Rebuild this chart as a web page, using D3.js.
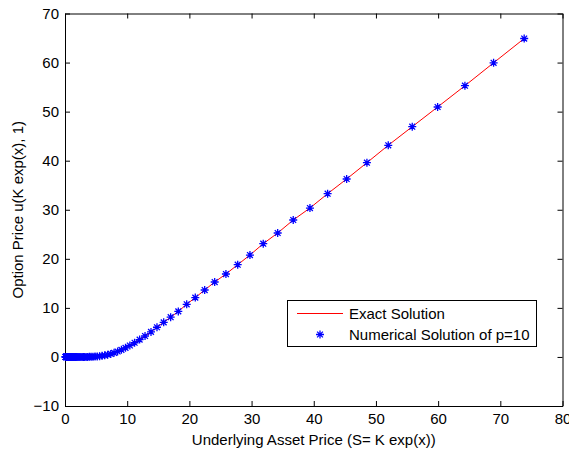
<!DOCTYPE html>
<html>
<head>
<meta charset="utf-8">
<script src="https://cdn.jsdelivr.net/npm/d3@7"></script>
<style>
  body { margin: 0; background: #fff; }
  svg { display: block; font-family: "Liberation Sans", Arial, Helvetica, sans-serif; }
</style>
</head>
<body>
<div class="canva"></div>
<script>
// asset price S and option value u (top end first)
const priceS = [73.84, 68.92, 64.31, 59.92, 55.84, 51.98, 48.55, 45.29, 42.23, 39.39,
  36.70, 34.20, 31.88, 29.74, 27.77, 25.88, 24.07, 22.46, 20.95, 19.57,
  18.22, 16.99, 15.87, 14.79, 13.83, 12.87, 12.00, 11.19, 10.43, 9.73,
  9.07, 8.46, 7.89, 7.36, 6.86, 6.39, 5.96, 5.56, 5.18, 4.83,
  4.50, 4.20, 3.92, 3.65, 3.40, 3.17, 2.96, 2.76, 2.57, 2.40,
  2.24, 2.08, 1.94, 1.81, 1.69, 1.58, 1.47, 1.37, 1.28, 1.19,
  1.11, 1.04, 0.97, 0.90, 0.84, 0.78, 0.73, 0.68, 0.64, 0.59,
  0.55, 0.52, 0.48, 0.45, 0.42, 0.39, 0.37, 0.34, 0.32, 0.30,
  0.28, 0.26, 0.24, 0.23, 0.21, 0.20, 0.18, 0.17, 0.16, 0.15,
  0.14, 0.13, 0.12, 0.11, 0.10];
const exactU = [64.90, 59.95, 55.28, 50.94, 46.93, 43.14, 39.59, 36.27, 33.27, 30.35,
  27.91, 25.26, 23.08, 20.77, 18.80, 16.90, 15.27, 13.64, 12.10, 10.73,
  9.28, 8.10, 7.05, 6.05, 5.10, 4.27, 3.53, 2.89, 2.33, 1.85,
  1.45, 1.11, 0.84, 0.62, 0.45, 0.32, 0.22, 0.15, 0.10, 0.07,
  0.045, 0.03, 0.02, 0.012, 0.007, 0, 0, 0, 0, 0,
  0, 0, 0, 0, 0, 0, 0, 0, 0, 0,
  0, 0, 0, 0, 0, 0, 0, 0, 0, 0,
  0, 0, 0, 0, 0, 0, 0, 0, 0, 0,
  0, 0, 0, 0, 0, 0, 0, 0, 0, 0,
  0, 0, 0, 0, 0];
const numericU = exactU.slice();

const xTicks = [0, 10, 20, 30, 40, 50, 60, 70, 80];
const yTicks = [-10, 0, 10, 20, 30, 40, 50, 60, 70];
const legendLabels = ["Exact Solution", "Numerical Solution of p=10"];

const W = 569, H = 457;
const mLeft = 65, mRight = 562.5, mTop = 13.5, mBottom = 406;

const svg = d3.select('.canva').append('svg')
    .attr('width', W)
    .attr('height', H);

const x = d3.scaleLinear().domain([0, 80]).range([mLeft, mRight]);
const y = d3.scaleLinear().domain([-10, 70]).range([mBottom, mTop]);

/* axes, ticks pointing inward like matlab */
const fmt = d => d < 0 ? "\u2212" + Math.abs(d) : d;

svg.append('g')
    .attr('transform', `translate(0,${mBottom})`)
    .call(d3.axisBottom(x).tickValues(xTicks).tickFormat(fmt).tickSizeInner(-5).tickSizeOuter(0).tickPadding(7));
svg.append('g')
    .attr('transform', `translate(${mLeft},0)`)
    .call(d3.axisLeft(y).tickValues(yTicks).tickFormat(fmt).tickSizeInner(-5).tickSizeOuter(0).tickPadding(6));
svg.append('g')
    .attr('transform', `translate(0,${mTop})`)
    .call(d3.axisTop(x).tickValues(xTicks).tickFormat('').tickSizeInner(-5).tickSizeOuter(0));
svg.append('g')
    .attr('transform', `translate(${mRight},0)`)
    .call(d3.axisRight(y).tickValues(yTicks).tickFormat('').tickSizeInner(-5).tickSizeOuter(0));

svg.selectAll('.tick text')
    .attr('font-size', 15)
    .attr('font-family', '"Liberation Sans", Arial, sans-serif')
    .attr('fill', '#000');
svg.selectAll('.domain, .tick line').attr('stroke', '#000');

const pts = priceS.map((s, i) => ({s: s, u: exactU[i], n: numericU[i]}));

// exact solution
const line = d3.line().x(d => x(d.s)).y(d => y(d.u));
svg.append('path')
    .datum(pts)
    .attr('d', line)
    .attr('fill', 'none')
    .attr('stroke', '#ff0000')
    .attr('stroke-width', 1);

// numerical solution as asterisks
const star = "M-4,0H4M0,-4V4M-2.9,-2.9L2.9,2.9M-2.9,2.9L2.9,-2.9";
svg.append('g').selectAll('path')
    .data(pts)
    .enter().append('path')
    .attr('transform', d => `translate(${x(d.s)},${y(d.n)})`)
    .attr('d', star)
    .attr('fill', 'none')
    .attr('stroke', '#0000ff')
    .attr('stroke-width', 1.3);

/* axis labels */
svg.append('text')
    .attr('x', (mLeft + mRight) / 2)
    .attr('y', 445)
    .attr('text-anchor', 'middle')
    .attr('font-size', 15)
    .text('Underlying Asset Price (S= K exp(x))');

svg.append('text')
    .attr('transform', `translate(23,${(mTop + mBottom) / 2}) rotate(-90)`)
    .attr('text-anchor', 'middle')
    .attr('font-size', 15)
    .text('Option Price u(K exp(x), 1)');

/* legend */
const lg = svg.append('g');
lg.append('rect')
    .attr('x', 287.5).attr('y', 300.5)
    .attr('width', 249).attr('height', 46)
    .attr('fill', '#fff').attr('stroke', '#000');
lg.append('line')
    .attr('x1', 297).attr('x2', 343)
    .attr('y1', 313.5).attr('y2', 313.5)
    .attr('stroke', '#ff0000');
lg.append('path')
    .attr('transform', 'translate(320,334.5)')
    .attr('d', star)
    .attr('fill', 'none')
    .attr('stroke', '#0000ff')
    .attr('stroke-width', 1.3);
lg.selectAll('text')
    .data(legendLabels)
    .enter().append('text')
    .attr('x', 349)
    .attr('y', (d, i) => 313.5 + i * 21)
    .attr('dy', '0.35em')
    .attr('font-size', 15)
    .text(d => d);
</script>
</body>
</html>
